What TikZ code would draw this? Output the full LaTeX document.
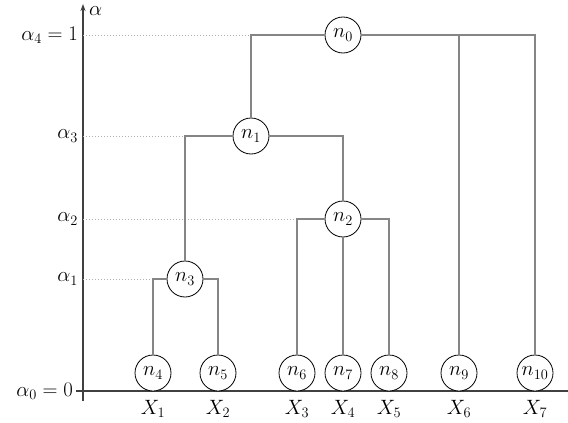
\documentclass[tikz,border=0pt]{standalone}
\usetikzlibrary{arrows.meta}
\definecolor{linkgray}{HTML}{858585}
\definecolor{dotgray}{HTML}{B0B0B0}
\definecolor{axisgray}{HTML}{404040}
\begin{document}
\begin{tikzpicture}[x=1pt,y=-1pt,
  font=\fontsize{20.74}{25}\selectfont,
  treenode/.style={circle,draw=black,line width=0.8pt,fill=white,minimum size=36pt,inner sep=0pt},
  link/.style={draw=linkgray,line width=1.2pt},
  guide/.style={draw=dotgray,line width=1pt,dotted},
  axisline/.style={draw=axisgray,line width=1.2pt},
  lvl/.style={anchor=east,inner sep=0pt},
  leaflabel/.style={inner sep=0pt}]
\useasboundingbox (0,0) rectangle (568,423);
% axes
\coordinate (ybot) at (83,401);
\coordinate (ytop) at (83,4);
\coordinate (xl) at (76,391);
\coordinate (xr) at (568,391);
\draw[axisline,-{Stealth[length=7pt,width=5pt]}] (ybot) -- (ytop);
\draw[axisline] (xl) -- (xr);
\node[anchor=base west,inner sep=0pt] (alab) at (89,16) {$\alpha$};
% level coordinates on axis
\coordinate (a4) at (83,35);
\coordinate (a3) at (83,136);
\coordinate (a2) at (83,219);
\coordinate (a1) at (83,279);
\node[lvl] (l4) at (78,35) {$\alpha_4 = 1$};
\node[lvl] (l3) at (78,136) {$\alpha_3$};
\node[lvl] (l2) at (78,219) {$\alpha_2$};
\node[lvl] (l1) at (78,279) {$\alpha_1$};
\node[lvl] (l0) at (73,391) {$\alpha_0 = 0$};
% dotted guides
\draw[guide] (a4) -- (251,35);
\draw[guide] (a3) -- (185,136);
\draw[guide] (a2) -- (297,219);
\draw[guide] (a1) -- (153,279);
% nodes
\node[treenode] (n0) at (343,35) {$n_0$};
\node[treenode] (n1) at (251,136) {$n_1$};
\node[treenode] (n2) at (343,219) {$n_2$};
\node[treenode] (n3) at (185,279) {$n_3$};
\node[treenode] (n4) at (153,373) {$n_4$};
\node[treenode] (n5) at (218,373) {$n_5$};
\node[treenode] (n6) at (297,373) {$n_6$};
\node[treenode] (n7) at (343,373) {$n_7$};
\node[treenode] (n8) at (389,373) {$n_8$};
\node[treenode] (n9) at (459,373) {$n_9$};
\node[treenode] (n10) at (535,373) {$n_{10}$};
% links
\draw[link] (n0) -| (n1);
\draw[link] (n0) -| (n9);
\draw[link] (n0) -| (n10);
\draw[link] (n1) -| (n3);
\draw[link] (n1) -| (n2);
\draw[link] (n3) -| (n4);
\draw[link] (n3) -| (n5);
\draw[link] (n2) -| (n6);
\draw[link] (n2) -- (n7);
\draw[link] (n2) -| (n8);
% leaf labels
\node[leaflabel] (x1) at (153,409) {$X_1$};
\node[leaflabel] (x2) at (218,409) {$X_2$};
\node[leaflabel] (x3) at (297,409) {$X_3$};
\node[leaflabel] (x4) at (343,409) {$X_4$};
\node[leaflabel] (x5) at (389,409) {$X_5$};
\node[leaflabel] (x6) at (459,409) {$X_6$};
\node[leaflabel] (x7) at (535,409) {$X_7$};
\end{tikzpicture}
\end{document}
